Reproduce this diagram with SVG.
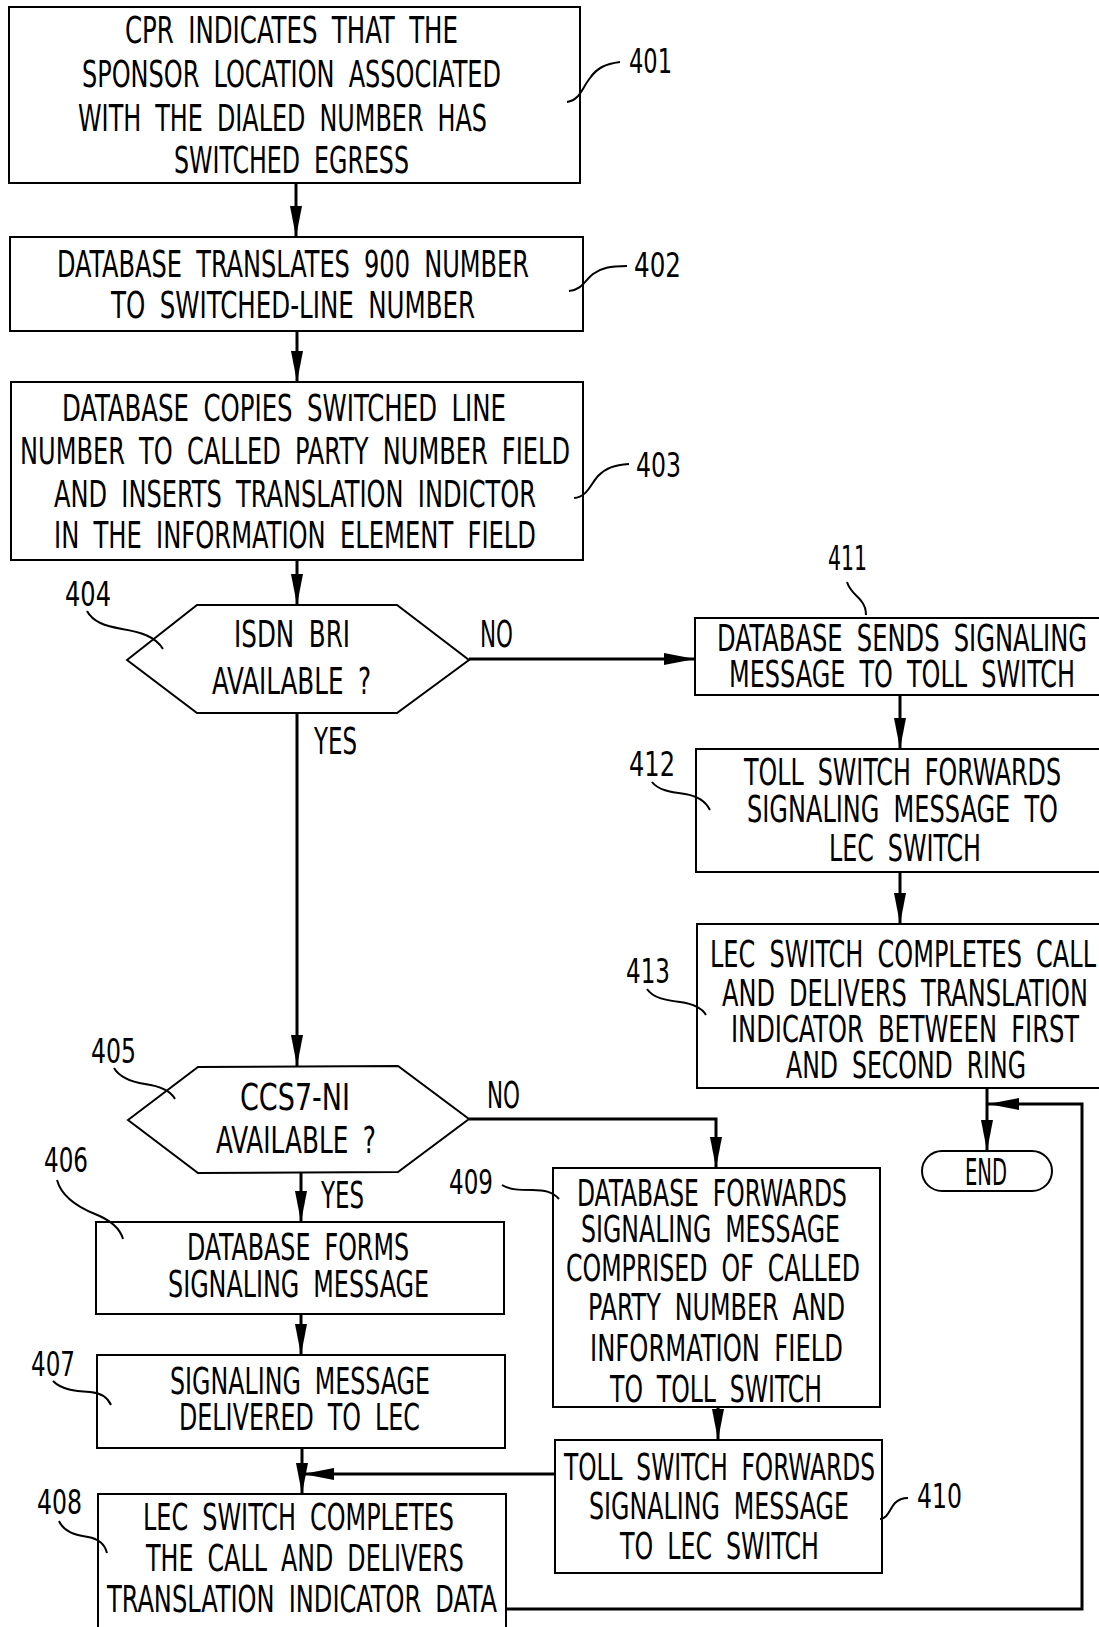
<svg xmlns="http://www.w3.org/2000/svg" width="1099" height="1627" viewBox="0 0 1099 1627">
<style>
.bx{fill:#fff;stroke:#000;stroke-width:2}
.t{font-family:"Liberation Sans Narrow","DejaVu Sans Condensed","Liberation Sans",sans-serif;font-size:37px;fill:#000;word-spacing:9px}
.lb{font-family:"Liberation Sans Narrow","DejaVu Sans Condensed","Liberation Sans",sans-serif;font-size:33px;fill:#000}
.ld{fill:none;stroke:#000;stroke-width:2}
.c{fill:none;stroke:#000;stroke-width:3}
</style>
<defs>
<marker id="ah" markerUnits="userSpaceOnUse" markerWidth="32" markerHeight="12" refX="31" refY="6" orient="auto">
<path d="M0,0 L31,6 L0,12 z" fill="#000"/>
</marker>
</defs>
<rect width="1099" height="1627" fill="#fff"/>

<g id="connectors">
<path class="c" d="M296,183 V237" marker-end="url(#ah)"/>
<path class="c" d="M297,331 V382" marker-end="url(#ah)"/>
<path class="c" d="M297,560 V605" marker-end="url(#ah)"/>
<path class="c" d="M469,659 H695" marker-end="url(#ah)"/>
<path class="c" d="M297,713 V1066" marker-end="url(#ah)"/>
<path class="c" d="M900,695 V749" marker-end="url(#ah)"/>
<path class="c" d="M900,872 V924" marker-end="url(#ah)"/>
<path class="c" d="M987,1088 V1151" marker-end="url(#ah)"/>
<path class="c" d="M469,1119 H716 V1168" marker-end="url(#ah)"/>
<path class="c" d="M301,1173 V1222" marker-end="url(#ah)"/>
<path class="c" d="M301,1314 V1355" marker-end="url(#ah)"/>
<path class="c" d="M302,1448 V1494" marker-end="url(#ah)"/>
<path class="c" d="M555,1474 H303" marker-end="url(#ah)"/>
<path class="c" d="M718,1407 V1440" marker-end="url(#ah)"/>
<path class="c" d="M506,1609 H1082 V1104 H988" marker-end="url(#ah)"/>
</g>

<g id="n401">
<rect class="bx" x="9" y="7" width="571" height="176"/>
<text class="t" x="125" y="43" textLength="333" lengthAdjust="spacingAndGlyphs">CPR INDICATES THAT THE</text>
<text class="t" x="82" y="87" textLength="419" lengthAdjust="spacingAndGlyphs">SPONSOR LOCATION ASSOCIATED</text>
<text class="t" x="78" y="131" textLength="409" lengthAdjust="spacingAndGlyphs">WITH THE DIALED NUMBER HAS</text>
<text class="t" x="174" y="173" textLength="235" lengthAdjust="spacingAndGlyphs">SWITCHED EGRESS</text>
<path class="ld" d="M567,102 C580,100 582,88 590,78 C597,68 605,64 620,62"/>
<text class="lb" x="629" y="73" textLength="43" lengthAdjust="spacingAndGlyphs">401</text>
</g>

<g id="n402">
<rect class="bx" x="10" y="237" width="573" height="94"/>
<text class="t" x="57" y="277" textLength="472" lengthAdjust="spacingAndGlyphs">DATABASE TRANSLATES 900 NUMBER</text>
<text class="t" x="111" y="318" textLength="364" lengthAdjust="spacingAndGlyphs">TO SWITCHED-LINE NUMBER</text>
<path class="ld" d="M569,291 C582,290 585,280 593,274 C601,268 610,266 627,266"/>
<text class="lb" x="634" y="277" textLength="47" lengthAdjust="spacingAndGlyphs">402</text>
</g>

<g id="n403">
<rect class="bx" x="11" y="382" width="572" height="178"/>
<text class="t" x="62" y="421" textLength="444" lengthAdjust="spacingAndGlyphs">DATABASE COPIES SWITCHED LINE</text>
<text class="t" x="20" y="464" textLength="550" lengthAdjust="spacingAndGlyphs">NUMBER TO CALLED PARTY NUMBER FIELD</text>
<text class="t" x="54" y="507" textLength="482" lengthAdjust="spacingAndGlyphs">AND INSERTS TRANSLATION INDICTOR</text>
<text class="t" x="54" y="548" textLength="482" lengthAdjust="spacingAndGlyphs">IN THE INFORMATION ELEMENT FIELD</text>
<path class="ld" d="M574,498 C587,497 590,485 598,476 C606,468 614,465 629,464"/>
<text class="lb" x="636" y="477" textLength="45" lengthAdjust="spacingAndGlyphs">403</text>
</g>

<g id="n404">
<polygon class="bx" points="127,660 197,605 397,605 469,660 397,713 197,713"/>
<text class="t" x="234" y="647" textLength="116" lengthAdjust="spacingAndGlyphs">ISDN BRI</text>
<text class="t" x="212" y="694" textLength="159" lengthAdjust="spacingAndGlyphs">AVAILABLE ?</text>
<path class="ld" d="M87,611 C93,622 105,626 122,629 C140,632 155,636 163,649"/>
<text class="lb" x="65" y="606" textLength="46" lengthAdjust="spacingAndGlyphs">404</text>
<text class="t" x="480" y="647" textLength="33" lengthAdjust="spacingAndGlyphs">NO</text>
<text class="t" x="314" y="754" textLength="43" lengthAdjust="spacingAndGlyphs">YES</text>
</g>

<g id="n411">
<rect class="bx" x="695" y="618" width="420" height="77"/>
<text class="t" x="717" y="651" textLength="370" lengthAdjust="spacingAndGlyphs">DATABASE SENDS SIGNALING</text>
<text class="t" x="729" y="687" textLength="346" lengthAdjust="spacingAndGlyphs">MESSAGE TO TOLL SWITCH</text>
<path class="ld" d="M847,582 C850,592 858,596 862,602 C865,606 866,610 866,615"/>
<text class="lb" x="828" y="570" textLength="39" lengthAdjust="spacingAndGlyphs">411</text>
</g>

<g id="n412">
<rect class="bx" x="696" y="749" width="420" height="123"/>
<text class="t" x="744" y="785" textLength="317" lengthAdjust="spacingAndGlyphs">TOLL SWITCH FORWARDS</text>
<text class="t" x="747" y="822" textLength="311" lengthAdjust="spacingAndGlyphs">SIGNALING MESSAGE TO</text>
<text class="t" x="829" y="861" textLength="152" lengthAdjust="spacingAndGlyphs">LEC SWITCH</text>
<path class="ld" d="M652,782 C658,790 670,792 685,794 C698,796 706,802 710,810"/>
<text class="lb" x="629" y="776" textLength="46" lengthAdjust="spacingAndGlyphs">412</text>
</g>

<g id="n413">
<rect class="bx" x="697" y="924" width="420" height="164"/>
<text class="t" x="710" y="967" textLength="386" lengthAdjust="spacingAndGlyphs">LEC SWITCH COMPLETES CALL</text>
<text class="t" x="722" y="1006" textLength="366" lengthAdjust="spacingAndGlyphs">AND DELIVERS TRANSLATION</text>
<text class="t" x="731" y="1042" textLength="348" lengthAdjust="spacingAndGlyphs">INDICATOR BETWEEN FIRST</text>
<text class="t" x="786" y="1078" textLength="240" lengthAdjust="spacingAndGlyphs">AND SECOND RING</text>
<path class="ld" d="M647,989 C653,998 665,1000 680,1002 C694,1004 702,1008 706,1015"/>
<text class="lb" x="626" y="983" textLength="44" lengthAdjust="spacingAndGlyphs">413</text>
</g>

<g id="end">
<rect class="bx" x="922" y="1151" width="130" height="40" rx="20" ry="20"/>
<text class="t" x="965" y="1185" textLength="42" lengthAdjust="spacingAndGlyphs">END</text>
</g>

<g id="n405">
<polygon class="bx" points="128,1120 198,1067 398,1066 469,1119 398,1172 198,1173"/>
<text class="t" x="240" y="1110" textLength="110" lengthAdjust="spacingAndGlyphs">CCS7-NI</text>
<text class="t" x="216" y="1153" textLength="160" lengthAdjust="spacingAndGlyphs">AVAILABLE ?</text>
<path class="ld" d="M114,1068 C120,1078 132,1082 145,1084 C160,1086 170,1090 175,1099"/>
<text class="lb" x="91" y="1063" textLength="45" lengthAdjust="spacingAndGlyphs">405</text>
<text class="t" x="487" y="1108" textLength="33" lengthAdjust="spacingAndGlyphs">NO</text>
<text class="t" x="321" y="1208" textLength="43" lengthAdjust="spacingAndGlyphs">YES</text>
</g>

<g id="n406">
<rect class="bx" x="96" y="1222" width="408" height="92"/>
<text class="t" x="187" y="1260" textLength="222" lengthAdjust="spacingAndGlyphs">DATABASE FORMS</text>
<text class="t" x="168" y="1297" textLength="261" lengthAdjust="spacingAndGlyphs">SIGNALING MESSAGE</text>
<path class="ld" d="M57,1180 C62,1198 80,1208 95,1214 C110,1220 120,1228 123,1239"/>
<text class="lb" x="44" y="1172" textLength="44" lengthAdjust="spacingAndGlyphs">406</text>
</g>

<g id="n407">
<rect class="bx" x="97" y="1355" width="408" height="93"/>
<text class="t" x="170" y="1394" textLength="260" lengthAdjust="spacingAndGlyphs">SIGNALING MESSAGE</text>
<text class="t" x="179" y="1430" textLength="241" lengthAdjust="spacingAndGlyphs">DELIVERED TO LEC</text>
<path class="ld" d="M53,1381 C62,1390 75,1391 90,1392 C102,1393 108,1398 111,1405"/>
<text class="lb" x="31" y="1376" textLength="44" lengthAdjust="spacingAndGlyphs">407</text>
</g>

<g id="n408">
<rect class="bx" x="98" y="1494" width="408" height="150"/>
<text class="t" x="143" y="1530" textLength="311" lengthAdjust="spacingAndGlyphs">LEC SWITCH COMPLETES</text>
<text class="t" x="146" y="1571" textLength="318" lengthAdjust="spacingAndGlyphs">THE CALL AND DELIVERS</text>
<text class="t" x="107" y="1612" textLength="390" lengthAdjust="spacingAndGlyphs">TRANSLATION INDICATOR DATA</text>
<path class="ld" d="M59,1521 C64,1532 75,1535 88,1537 C100,1539 105,1545 107,1553"/>
<text class="lb" x="37" y="1514" textLength="45" lengthAdjust="spacingAndGlyphs">408</text>
</g>

<g id="n409">
<rect class="bx" x="553" y="1168" width="327" height="239"/>
<text class="t" x="577" y="1206" textLength="270" lengthAdjust="spacingAndGlyphs">DATABASE FORWARDS</text>
<text class="t" x="581" y="1242" textLength="259" lengthAdjust="spacingAndGlyphs">SIGNALING MESSAGE</text>
<text class="t" x="566" y="1281" textLength="294" lengthAdjust="spacingAndGlyphs">COMPRISED OF CALLED</text>
<text class="t" x="588" y="1320" textLength="257" lengthAdjust="spacingAndGlyphs">PARTY NUMBER AND</text>
<text class="t" x="590" y="1361" textLength="253" lengthAdjust="spacingAndGlyphs">INFORMATION FIELD</text>
<text class="t" x="610" y="1402" textLength="212" lengthAdjust="spacingAndGlyphs">TO TOLL SWITCH</text>
<path class="ld" d="M502,1185 C510,1190 520,1190 532,1190 C545,1190 553,1192 559,1199"/>
<text class="lb" x="449" y="1194" textLength="44" lengthAdjust="spacingAndGlyphs">409</text>
</g>

<g id="n410">
<rect class="bx" x="555" y="1440" width="327" height="133"/>
<text class="t" x="564" y="1480" textLength="311" lengthAdjust="spacingAndGlyphs">TOLL SWITCH FORWARDS</text>
<text class="t" x="589" y="1519" textLength="260" lengthAdjust="spacingAndGlyphs">SIGNALING MESSAGE</text>
<text class="t" x="620" y="1559" textLength="199" lengthAdjust="spacingAndGlyphs">TO LEC SWITCH</text>
<path class="ld" d="M880,1519 C888,1519 890,1508 895,1503 C899,1499 903,1498 908,1498"/>
<text class="lb" x="917" y="1508" textLength="45" lengthAdjust="spacingAndGlyphs">410</text>
</g>
</svg>
